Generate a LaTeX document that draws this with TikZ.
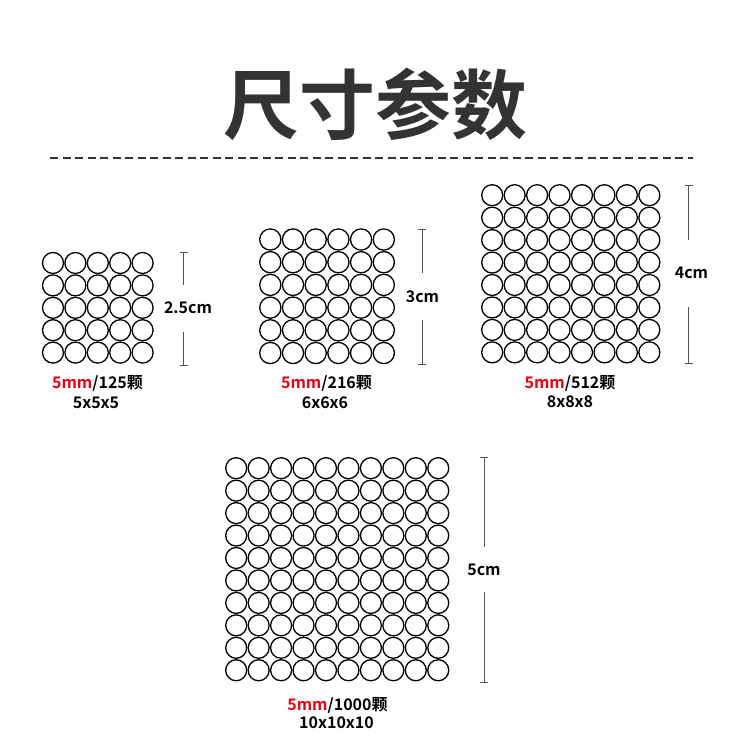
\documentclass[tikz,border=0pt]{standalone}
\usepackage{fontspec}
\setmainfont{Noto Sans CJK SC}[BoldFont={* Bold}]
\definecolor{titlegray}{HTML}{333333}
\definecolor{dimgray}{HTML}{555555}
\definecolor{mmred}{HTML}{E60012}
\begin{document}
\begin{tikzpicture}[x=1pt,y=-1pt,
  ring/.style={draw=black,line width=1.3pt},
  dimline/.style={draw=dimgray,line width=0.9pt},
  dimlabel/.style={font=\bfseries\fontsize{16}{16}\selectfont,text=black,inner sep=0pt},
  caption/.style={font=\bfseries\fontsize{16}{16}\selectfont,text=black,inner sep=0pt},
  titletext/.style={font=\bfseries\fontsize{76}{76}\selectfont,text=titlegray,inner sep=0pt}]
\useasboundingbox[fill=white] (0,0) rectangle (750,750);
% title
\node[titletext] (title) at (375,104) {尺寸参数};
\coordinate (dl) at (50,158);
\coordinate (dr) at (693,158);
\draw[draw=titlegray,line width=1.3pt,dash pattern=on 8pt off 4.5pt] (dl) -- (dr);
% grids
\foreach \i in {0,...,4}{\foreach \j in {0,...,4}{
  \draw[ring] (53+22.4*\i,263+22.4*\j) circle (10.5);}}
\foreach \i in {0,...,5}{\foreach \j in {0,...,5}{
  \draw[ring] (270.3+22.7*\i,239.5+22.7*\j) circle (10.6);}}
\foreach \i in {0,...,7}{\foreach \j in {0,...,7}{
  \draw[ring] (492.2+22.45*\i,195.2+22.45*\j) circle (10.5);}}
\foreach \i in {0,...,9}{\foreach \j in {0,...,9}{
  \draw[ring] (236.2+22.45*\i,468.2+22.45*\j) circle (10.5);}}
% dimension 1
\coordinate (a1) at (183.5,252); \coordinate (a2) at (183.5,285);
\coordinate (a3) at (183.5,332); \coordinate (a4) at (183.5,365);
\draw[dimline] (a1) -- (a2) (a3) -- (a4);
\draw[dimline] ([xshift=-4pt]a1) -- ([xshift=4pt]a1) ([xshift=-4pt]a4) -- ([xshift=4pt]a4);
\node[dimlabel] (l1) at (188,307.5) {2.5cm};
% dimension 2
\coordinate (b1) at (422,229); \coordinate (b2) at (422,273);
\coordinate (b3) at (422,320); \coordinate (b4) at (422,364);
\draw[dimline] (b1) -- (b2) (b3) -- (b4);
\draw[dimline] ([xshift=-4pt]b1) -- ([xshift=4pt]b1) ([xshift=-4pt]b4) -- ([xshift=4pt]b4);
\node[dimlabel] (l2) at (422.5,297) {3cm};
% dimension 3
\coordinate (c1) at (688.5,185); \coordinate (c2) at (688.5,240);
\coordinate (c3) at (688.5,307); \coordinate (c4) at (688.5,363);
\draw[dimline] (c1) -- (c2) (c3) -- (c4);
\draw[dimline] ([xshift=-4pt]c1) -- ([xshift=4pt]c1) ([xshift=-4pt]c4) -- ([xshift=4pt]c4);
\node[dimlabel] (l3) at (691.5,273) {4cm};
% dimension 4
\coordinate (d1) at (484,457); \coordinate (d2) at (484,547);
\coordinate (d3) at (484,592); \coordinate (d4) at (484,682);
\draw[dimline] (d1) -- (d2) (d3) -- (d4);
\draw[dimline] ([xshift=-4pt]d1) -- ([xshift=4pt]d1) ([xshift=-4pt]d4) -- ([xshift=4pt]d4);
\node[dimlabel] (l4) at (484,570) {5cm};
% captions
\node[caption] (t1) at (97.5,383.5) {\textcolor{mmred}{5mm}/125颗};
\node[caption] (s1) at (96,402.5) {5x5x5};
\node[caption] (t2) at (326.5,383.5) {\textcolor{mmred}{5mm}/216颗};
\node[caption] (s2) at (325,402.5) {6x6x6};
\node[caption] (t3) at (570,383.5) {\textcolor{mmred}{5mm}/512颗};
\node[caption] (s3) at (570,401.5) {8x8x8};
\node[caption] (t4) at (337.5,705) {\textcolor{mmred}{5mm}/1000颗};
\node[caption] (s4) at (336.5,723) {10x10x10};
\end{tikzpicture}
\end{document}
